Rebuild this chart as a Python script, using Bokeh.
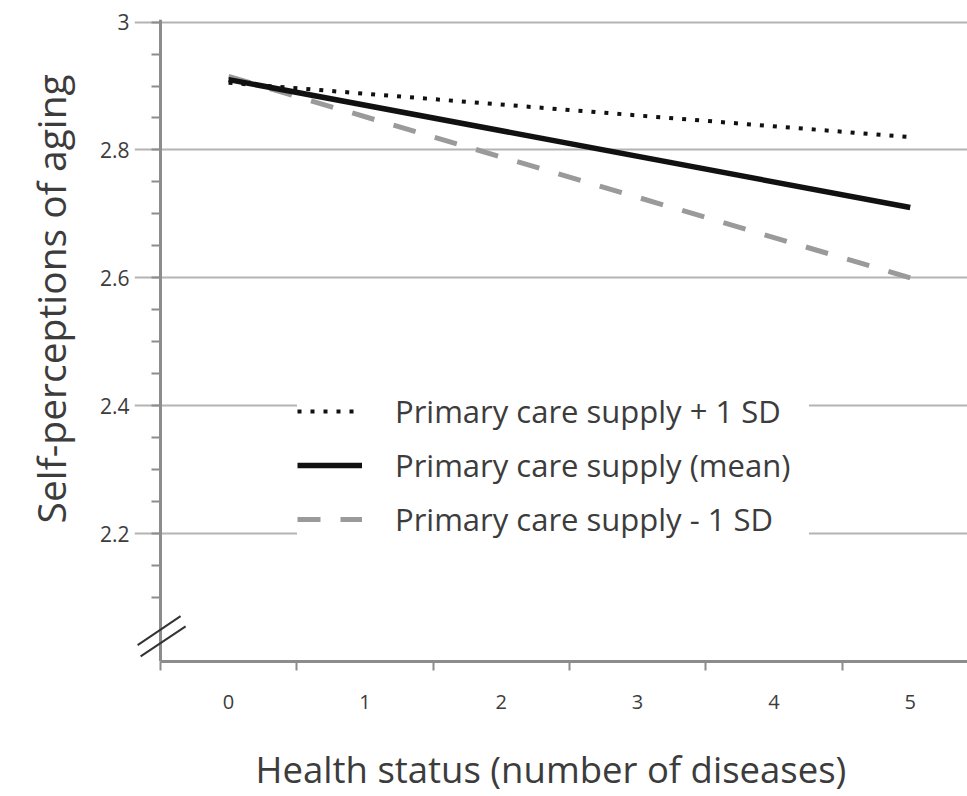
from bokeh.plotting import figure
from bokeh.models import (Range1d, FixedTicker, Legend, LegendItem, Title, Arrow, LinearAxis)
from bokeh.embed import file_html
from bokeh.resources import INLINE

# ---- data ----
health_status = [0, 5]
supply_plus_1sd = [2.905, 2.82]
supply_mean = [2.91, 2.71]
supply_minus_1sd = [2.915, 2.60]

x_ticks = [0, 1, 2, 3, 4, 5]
x_tick_labels = ["0", "1", "2", "3", "4", "5"]
x_minor_ticks = [-0.5, 0.5, 1.5, 2.5, 3.5, 4.5, 5.5]
y_ticks = [2.2, 2.4, 2.6, 2.8, 3.0]
y_tick_labels = ["2.2", "2.4", "2.6", "2.8", "3"]
y_minor_ticks = [2.1, 2.15, 2.25, 2.3, 2.35, 2.45, 2.5, 2.55, 2.65, 2.7, 2.75,
                 2.85, 2.9, 2.95]
series_labels = ["Primary care supply + 1 SD", "Primary care supply (mean)",
                 "Primary care supply - 1 SD"]
x_axis_title = "Health status (number of diseases)"
y_axis_title = "Self-perceptions of aging"

FONT = "Open Sans"
TEXT = "#3c3c3c"
AXIS = "#8c8c8c"
GRID = "#b4b4b4"

X_LO, X_HI = -0.5, 5.5     # axis extent (category band edges)

p = figure(width=967, height=796,
           x_range=Range1d(-0.69, 5.42), y_range=Range1d(2.0, 3.004),
           output_backend="svg", toolbar_location=None,
           min_border_left=134, min_border_right=0,
           min_border_top=19, min_border_bottom=133)
p.outline_line_color = None
p.background_fill_color = "white"
p.border_fill_color = "white"

# ---- x axis ----
xa = p.xaxis[0]
xa.ticker = FixedTicker(ticks=x_ticks, minor_ticks=x_minor_ticks)
xa.major_label_overrides = dict(zip(x_ticks, x_tick_labels))
xa.bounds = (X_LO, X_HI)
xa.axis_line_color = AXIS
xa.axis_line_width = 3
xa.major_tick_out = 0
xa.major_tick_in = 0
xa.minor_tick_out = 9
xa.minor_tick_in = 0
xa.minor_tick_line_color = AXIS
xa.minor_tick_line_width = 2
xa.major_label_standoff = 24
xa.major_label_text_font = FONT
xa.major_label_text_font_size = "20px"
xa.major_label_text_color = TEXT
xa.axis_label = x_axis_title
xa.axis_label_text_font = FONT
xa.axis_label_text_font_size = "36.5px"
xa.axis_label_text_font_style = "normal"
xa.axis_label_text_color = TEXT
xa.axis_label_standoff = 32

# ---- y axis: labels at the frame edge ----
ya = p.yaxis[0]
ya.ticker = FixedTicker(ticks=y_ticks)
ya.major_label_overrides = dict(zip(y_ticks, y_tick_labels))
ya.axis_line_color = None
ya.major_tick_line_color = None
ya.major_tick_out = 0
ya.major_tick_in = 0
ya.minor_tick_line_color = None
ya.minor_tick_out = 0
ya.minor_tick_in = 0
ya.major_label_standoff = 5
ya.major_label_text_font = FONT
ya.major_label_text_font_size = "21px"
ya.major_label_text_color = TEXT

# ---- y axis line and ticks at x = -0.5 (leaves room for the break marks) ----
ya_line = LinearAxis(fixed_location=X_LO,
                     ticker=FixedTicker(ticks=y_ticks, minor_ticks=y_minor_ticks))
ya_line.axis_line_color = AXIS
ya_line.axis_line_width = 3
ya_line.major_tick_out = 9
ya_line.major_tick_in = 0
ya_line.major_tick_line_color = AXIS
ya_line.major_tick_line_width = 2
ya_line.minor_tick_out = 9
ya_line.minor_tick_in = 0
ya_line.minor_tick_line_color = AXIS
ya_line.minor_tick_line_width = 2
ya_line.major_label_text_color = None
p.add_layout(ya_line, "left")

p.xgrid.visible = False
p.ygrid.ticker = FixedTicker(ticks=y_ticks)
p.ygrid.bounds = (X_LO, X_HI)
p.ygrid.grid_line_color = GRID
p.ygrid.grid_line_width = 2

# y axis title (offset upward like the reference)
p.add_layout(Title(text=y_axis_title, align="left", offset=138, standoff=40,
                   text_font=FONT, text_font_size="39px",
                   text_font_style="normal", text_color=TEXT), "left")

# axis break marks
p.add_layout(Arrow(end=None, x_start=-0.667, y_start=2.0255, x_end=-0.352, y_end=2.071,
                   line_color="#333333", line_width=2))
p.add_layout(Arrow(end=None, x_start=-0.645, y_start=2.008, x_end=-0.315, y_end=2.055,
                   line_color="#333333", line_width=2))

# ---- series ----
r_minus = p.line(health_status, supply_minus_1sd, line_color="#9a9a9a",
                 line_width=5, line_dash="23 20")
r_plus = p.line(health_status, supply_plus_1sd, line_color="#111111",
                line_width=4, line_dash="4 9")
r_mean = p.line(health_status, supply_mean, line_color="#111111", line_width=5.5)

legend = Legend(items=[LegendItem(label=series_labels[0], renderers=[r_plus]),
                       LegendItem(label=series_labels[1], renderers=[r_mean]),
                       LegendItem(label=series_labels[2], renderers=[r_minus])],
                location=(163, 121))
legend.background_fill_color = "white"
legend.background_fill_alpha = 1.0
legend.border_line_color = None
legend.label_text_font = FONT
legend.label_text_font_size = "31px"
legend.label_text_color = TEXT
legend.label_width = 414
legend.glyph_width = 65
legend.glyph_height = 30
legend.label_height = 30
legend.label_standoff = 33
legend.spacing = 12
legend.padding = 20
legend.margin = 0
p.add_layout(legend, "center")

open("out.html", "w").write(file_html(p, INLINE))
